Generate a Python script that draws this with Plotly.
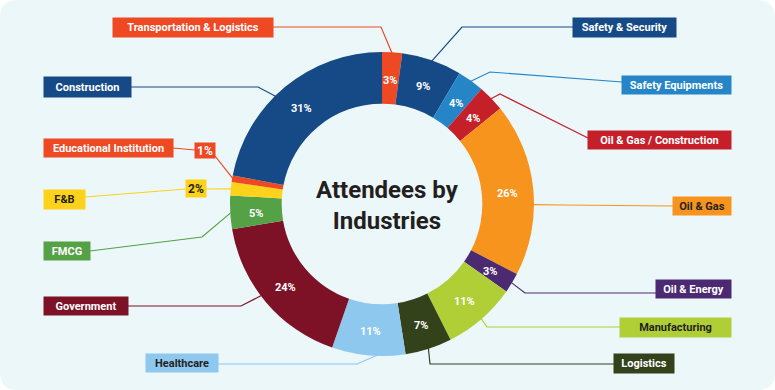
import math
import plotly.graph_objects as go

# ---- data ----
industries = ["Transportation & Logistics", "Safety & Security", "Safety Equipments",
              "Oil & Gas / Construction", "Oil & Gas", "Oil & Energy", "Manufacturing",
              "Logistics", "Healthcare", "Government", "FMCG", "F&B",
              "Educational Institution", "Construction"]
percent = [3, 9, 4, 4, 26, 3, 11, 7, 11, 24, 5, 2, 1, 31]
pct_labels = [f"{p}%" for p in percent]

# ---- style ----
colors = ["#ef4923", "#164a87", "#2585c7", "#c51f2a", "#f7941e", "#4c2a72", "#b0cf37",
          "#33421a", "#8ec8ef", "#7d1226", "#55a146", "#fdd21a", "#ef4923", "#164a87"]
dark = "#231f20"
label_text_colors = ["white", "white", "white", "white", dark, "white", dark,
                     "white", dark, "white", "white", dark, "white", "white"]

W, H = 775, 390
CX, CY, R_OUT = 382, 204, 152
HOLE = 0.66

# label boxes (x0, x1, y0, y1) in pixels, and elbow points of connectors
boxes = [(113, 273, 18, 37), (573, 676, 18, 37), (622, 731, 76, 94), (588, 731, 131, 149),
         (673, 731, 197, 215), (656, 731, 280, 298), (620, 731, 318, 337), (614, 674, 354, 373),
         (146, 218, 354, 372), (44, 128, 297, 315), (44, 90, 242, 260), (44, 85, 190, 209),
         (44, 173, 139, 157), (44, 131, 77, 97)]
paths = [[(273, 27), (381, 27)], [(573, 27), (462, 27)], [(622, 82), (490, 72)],
         [(588, 138), (500, 94)], [(673, 206), (563, 205)], [(656, 293), (525, 293)],
         [(620, 327), (487, 327)], [(614, 364), (430, 364)], [(218, 364), (357, 364)],
         [(128, 306), (241, 306)], [(90, 251), (202, 237)], [(85, 197), (186, 189), (206, 189)],
         [(173, 148), (195, 150), (215, 156)], [(131, 87), (258, 87)]]
anchor_offset = [0, 0, 0, 0, 6, 0, 0, 0, -3.5, 3, 0, 0, 0, -5]
# small slices get their percentage in an outside box
outside_pct = {11: (186, 206, 180, 197), 12: (195, 215, 143, 158)}


def px(x):
    return x / W


def py(y):
    return 1 - y / H


def ann(x, y, text, **kw):
    d = dict(x=px(x), y=py(y), xref="paper", yref="paper", text=text, showarrow=False,
             xanchor="center", yanchor="middle")
    d.update(kw)
    return d


fig = go.Figure()
fig.add_trace(go.Pie(
    values=percent, labels=industries, sort=False, direction="clockwise", rotation=0,
    hole=HOLE, marker=dict(colors=colors, line=dict(width=0)),
    textinfo="none", hoverinfo="label+text", text=pct_labels, showlegend=False,
    domain=dict(x=[px(CX - R_OUT), px(CX + R_OUT)], y=[py(CY + R_OUT), py(CY - R_OUT)]),
))

total = sum(percent)
shapes = []
annotations = []

# rounded background
rx, ry = 18 / W, 18 / H
bg = (f"M {rx},0 L {1-rx},0 Q 1,0 1,{ry} L 1,{1-ry} Q 1,1 {1-rx},1 "
      f"L {rx},1 Q 0,1 0,{1-ry} L 0,{ry} Q 0,0 {rx},0 Z")
shapes.append(dict(type="path", xref="paper", yref="paper", path=bg,
                   fillcolor="#ecf7fa", line=dict(width=0), layer="below"))

cum = 0
for i, name in enumerate(industries):
    a0 = cum / total * 360
    cum += percent[i]
    a1 = cum / total * 360
    mid = (a0 + a1) / 2

    # inner percentage label
    if i not in outside_pct:
        r_lab = 126
        lx = CX + r_lab * math.sin(math.radians(mid))
        ly = CY - r_lab * math.cos(math.radians(mid)) + 2
        annotations.append(ann(lx, ly, f"<b>{pct_labels[i]}</b>",
                               font=dict(family="Roboto", size=11, color="white")))
    else:
        bx0, bx1, by0, by1 = outside_pct[i]
        annotations.append(ann((bx0 + bx1) / 2, (by0 + by1) / 2, f"<b>{pct_labels[i]}</b>",
                               width=bx1 - bx0, height=by1 - by0, borderpad=0,
                               bgcolor=colors[i],
                               font=dict(family="Roboto", size=12, color=label_text_colors[i])))

    # connector
    aa = math.radians(mid + anchor_offset[i])
    ax = CX + (R_OUT - 1) * math.sin(aa)
    ay = CY - (R_OUT - 1) * math.cos(aa)
    pts = paths[i] + [(ax, ay)]
    d = "M " + " L ".join(f"{px(x)},{py(y)}" for x, y in pts)
    shapes.append(dict(type="path", xref="paper", yref="paper", path=d,
                       line=dict(color=colors[i], width=1.2), layer="above"))

    # name box
    x0, x1, y0, y1 = boxes[i]
    annotations.append(ann((x0 + x1) / 2, (y0 + y1) / 2, f"<b>{name}</b>",
                           width=x1 - x0, height=y1 - y0, borderpad=0, bgcolor=colors[i],
                           align="center", valign="middle",
                           font=dict(family="Roboto", size=11, color=label_text_colors[i])))

# centre title
annotations.append(ann(387, 205, "<b>Attendees by<br>Industries</b>",
                       font=dict(family="Roboto", size=24, color=dark)))

fig.update_layout(width=W, height=H, margin=dict(l=0, r=0, t=0, b=0),
                  paper_bgcolor="white", plot_bgcolor="white",
                  shapes=shapes, annotations=annotations)
fig.write_html("out.html", config={"displayModeBar": False},
               post_script="document.body.style.margin='0';document.body.style.padding='0';")
